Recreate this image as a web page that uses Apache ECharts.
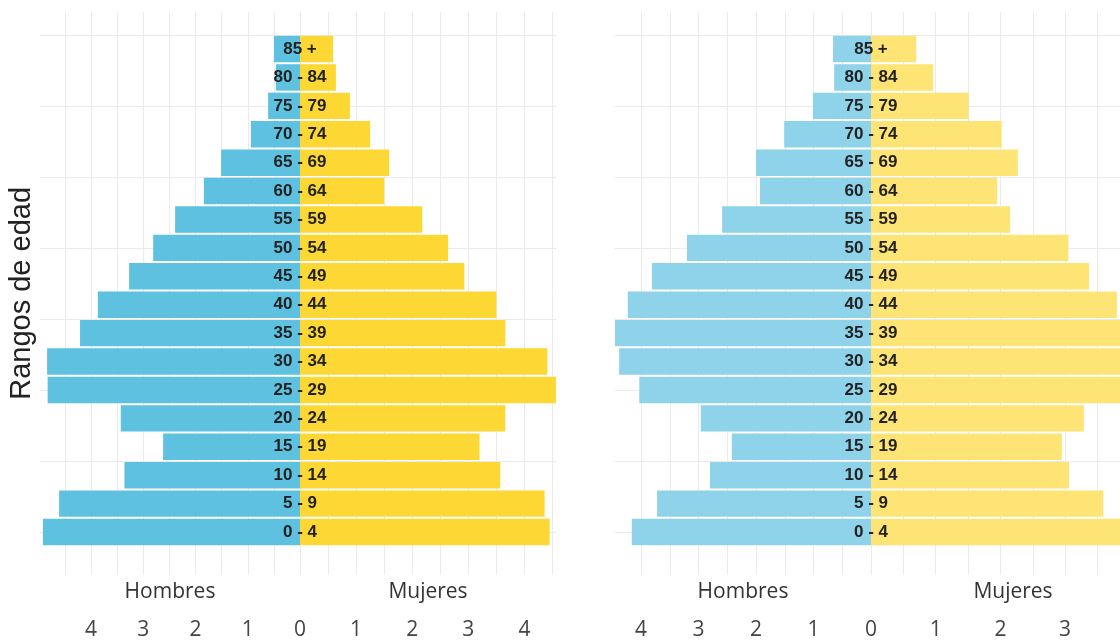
<!DOCTYPE html>
<html><head><meta charset="utf-8">
<script src="https://cdn.jsdelivr.net/npm/echarts@6/dist/echarts.min.js"></script>
<style>html,body{margin:0;padding:0;background:#fff}#c{width:1120px;height:642px}</style>
</head><body><div id="c"></div>
<script>
// ---- data (category order: bottom -> top) ----
const ageGroups = ['0 - 4','5 - 9','10 - 14','15 - 19','20 - 24','25 - 29','30 - 34','35 - 39','40 - 44','45 - 49','50 - 54','55 - 59','60 - 64','65 - 69','70 - 74','75 - 79','80 - 84','85 +'];
const menLeft   = [4.92,4.61,3.36,2.62,3.43,4.83,4.84,4.21,3.87,3.27,2.81,2.39,1.84,1.51,0.94,0.61,0.46,0.50];
const womenLeft = [4.45,4.36,3.57,3.20,3.66,4.59,4.41,3.66,3.50,2.93,2.64,2.18,1.50,1.59,1.25,0.89,0.64,0.59];
const menRight   = [4.16,3.72,2.80,2.42,2.96,4.03,4.38,4.47,4.23,3.81,3.20,2.59,1.93,2.00,1.51,1.01,0.64,0.66];
const womenRight = [3.95,3.59,3.06,2.95,3.29,4.05,4.20,4.10,3.80,3.37,3.05,2.15,1.95,2.27,2.02,1.51,0.96,0.70];
const menName = 'Hombres';
const womenName = 'Mujeres';
const yTitle = 'Rangos de edad';

// ---- layout ----
const CY0 = 532, STEP = 28.41;          // pixel y of first category centre, category step
const panels = [
  {l: 40,  c: 300, r: 556,  mScale: 52.25, wScale: 56.1, men: menLeft,  women: womenLeft,  mc: '#5ec1e0', wc: '#fdd835'},
  {l: 615, c: 871, r: 1155, mScale: 57.5,  wScale: 64.7, men: menRight, women: womenRight, mc: '#8fd3ea', wc: '#fee474'}
];
const gridColor = '#ebebeb';
const tickFont = {fontFamily: 'Open Sans', fontSize: 21, color: '#444'};

const grid = [], xAxis = [], yAxis = [], series = [];
const mkGrid = g => Object.assign({outerBoundsMode: 'none', containLabel: false}, g);
panels.forEach((p, k) => {
  const mMax = (p.c - p.l) / p.mScale, wMax = (p.r - p.c) / p.wScale;
  const vTop = CY0 - 18.3 * STEP, vH = 19.8 * STEP;
  const bTop = CY0 - 17.5 * STEP, bH = 18 * STEP;
  const hTop = CY0 - 20 * STEP, hH = 22.5 * STEP;
  const noAxis = {axisLine: {show: false}, axisTick: {show: false}, axisLabel: {show: false}, splitLine: {show: false}};

  // horizontal grid lines
  let gi = grid.length;
  grid.push(mkGrid({left: p.l, width: p.r - p.l, top: hTop, height: hH}));
  xAxis.push({gridIndex: gi, type: 'value', show: false, min: 0, max: 1});
  yAxis.push({gridIndex: gi, type: 'value', min: -2.5, max: 20, interval: 2.5, ...noAxis,
    splitLine: {show: true, showMinLine: false, showMaxLine: false, lineStyle: {color: gridColor, width: 1}}});

  // men vertical lines + ticks
  gi = grid.length;
  grid.push(mkGrid({left: p.l, width: p.c - p.l, top: vTop, height: vH}));
  xAxis.push({gridIndex: gi, type: 'value', inverse: true, min: 0, max: mMax, interval: 0.5,
    axisLine: {show: false}, axisTick: {show: false},
    axisLabel: {...tickFont, margin: 45, showMaxLabel: false,
      formatter: v => (Math.abs(v - Math.round(v)) < 1e-6 ? String(Math.round(v)) : '')},
    splitLine: {show: true, showMaxLine: false, lineStyle: {color: gridColor, width: 1}},
    name: menName, nameLocation: 'middle', nameGap: 7, nameMoveOverlap: false,
    nameTextStyle: {fontFamily: 'Open Sans', fontSize: 21, color: '#333'}});
  yAxis.push({gridIndex: gi, type: 'value', min: -1.5, max: 18.3, ...noAxis,
    name: k === 0 ? yTitle : '', nameLocation: 'middle', nameGap: 4, nameMoveOverlap: false,
    nameTextStyle: {fontFamily: 'Liberation Sans', fontSize: 29, color: '#222'}});

  // women vertical lines + ticks
  gi = grid.length;
  grid.push(mkGrid({left: p.c, width: p.r - p.c, top: vTop, height: vH}));
  xAxis.push({gridIndex: gi, type: 'value', min: 0, max: wMax, interval: 0.5,
    axisLine: {show: false}, axisTick: {show: false},
    axisLabel: {...tickFont, margin: 45, showMaxLabel: false,
      formatter: v => (v > 0 && Math.abs(v - Math.round(v)) < 1e-6 ? String(Math.round(v)) : '')},
    splitLine: {show: true, showMaxLine: false, lineStyle: {color: gridColor, width: 1}},
    name: womenName, nameLocation: 'middle', nameGap: 7, nameMoveOverlap: false,
    nameTextStyle: {fontFamily: 'Open Sans', fontSize: 21, color: '#333'}});
  yAxis.push({gridIndex: gi, type: 'value', min: -1.5, max: 18.3, ...noAxis});

  // men bars
  gi = grid.length;
  grid.push(mkGrid({left: p.l, width: p.c - p.l, top: bTop, height: bH}));
  xAxis.push({gridIndex: gi, type: 'value', inverse: true, min: 0, max: mMax, show: false});
  yAxis.push({gridIndex: gi, type: 'category', data: ageGroups, show: false});
  series.push({type: 'bar', xAxisIndex: gi, yAxisIndex: gi, data: p.men, barCategoryGap: '7%',
    itemStyle: {color: p.mc}, silent: true});

  // women bars + age labels at centre
  gi = grid.length;
  grid.push(mkGrid({left: p.c, width: p.r - p.c, top: bTop, height: bH}));
  xAxis.push({gridIndex: gi, type: 'value', min: 0, max: wMax, show: false});
  yAxis.push({gridIndex: gi, type: 'category', data: ageGroups, z: 10,
    axisLine: {show: false}, axisTick: {show: false}, splitLine: {show: false},
    axisLabel: {inside: true, margin: 0, align: 'center', fontFamily: 'Liberation Sans',
      fontWeight: 'bold', fontSize: 17, color: '#222'}});
  series.push({type: 'bar', xAxisIndex: gi, yAxisIndex: gi, data: p.women, barCategoryGap: '7%',
    itemStyle: {color: p.wc}, silent: true});
});

const chart = echarts.init(document.getElementById('c'), null, {renderer: 'canvas'});
chart.setOption({animation: false, backgroundColor: '#fff', grid, xAxis, yAxis, series});
</script></body></html>
